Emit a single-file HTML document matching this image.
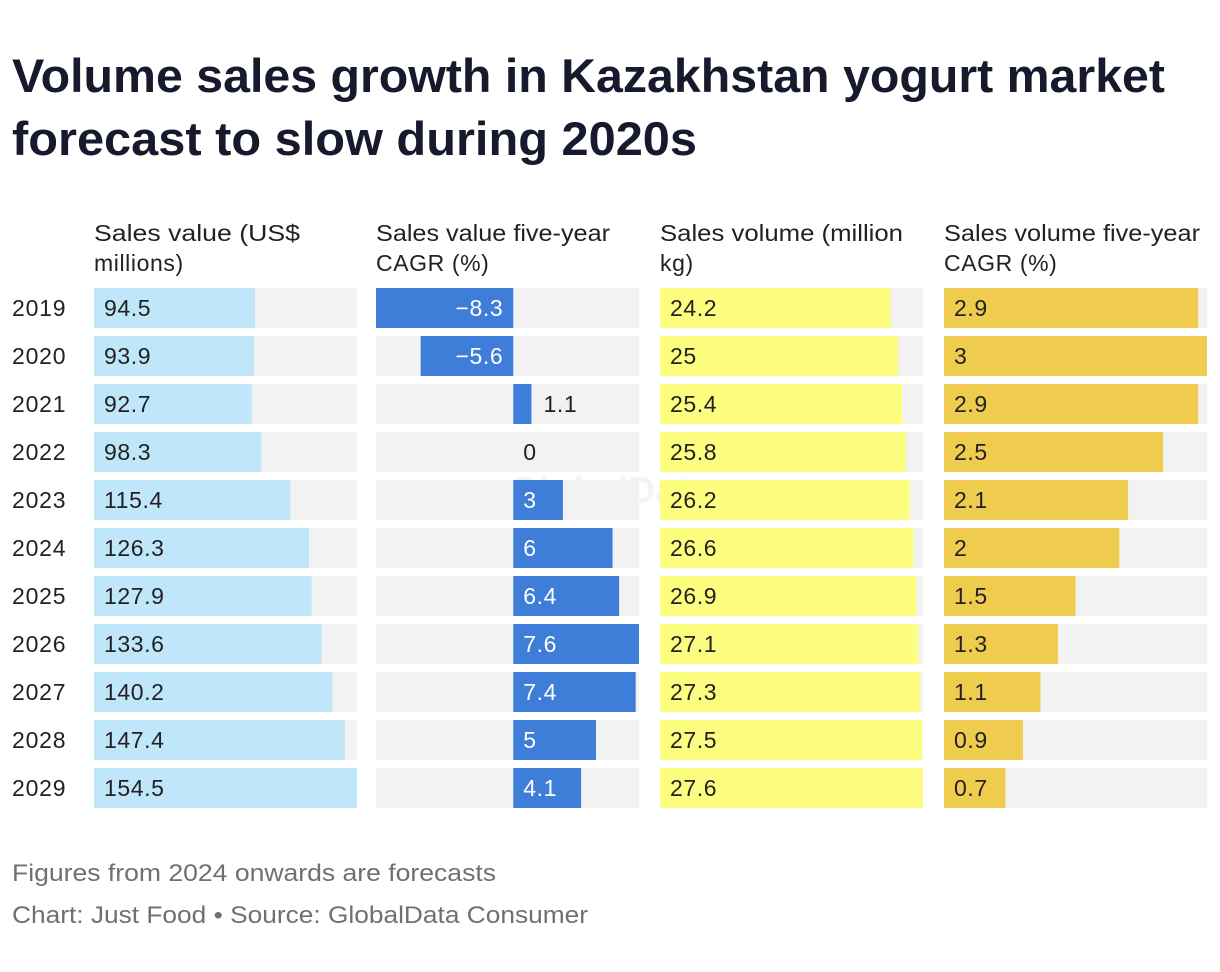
<!DOCTYPE html>
<html><head><meta charset="utf-8"><style>
html,body{margin:0;padding:0;background:#fff;}
svg{display:block;font-family:"Liberation Sans",Arial,sans-serif;}
</style></head><body>
<svg id="chart" width="1220" height="972" viewBox="0 0 1220 972" xmlns="http://www.w3.org/2000/svg">
<text x="12" y="92" font-size="47" font-weight="bold" fill="#171a2d" textLength="1153" lengthAdjust="spacingAndGlyphs">Volume sales growth in Kazakhstan yogurt market</text>
<text x="12" y="155" font-size="47" font-weight="bold" fill="#171a2d" textLength="685" lengthAdjust="spacingAndGlyphs">forecast to slow during 2020s</text>
<text x="610" y="503" font-size="38" font-weight="bold" fill="#f4f4f4" text-anchor="middle">GlobalData</text>
<g id="plot"></g>
<text x="12" y="881" font-size="24" fill="#707070" textLength="484" lengthAdjust="spacingAndGlyphs">Figures from 2024 onwards are forecasts</text>
<text x="12" y="923" font-size="24" fill="#707070" textLength="576" lengthAdjust="spacingAndGlyphs">Chart: Just Food • Source: GlobalData Consumer</text>
</svg>
<script>
const years = ["2019","2020","2021","2022","2023","2024","2025","2026","2027","2028","2029"];
const salesValue = [94.5,93.9,92.7,98.3,115.4,126.3,127.9,133.6,140.2,147.4,154.5];
const salesValueCagr = [-8.3,-5.6,1.1,0,3,6,6.4,7.6,7.4,5,4.1];
const salesVolume = [24.2,25,25.4,25.8,26.2,26.6,26.9,27.1,27.3,27.5,27.6];
const salesVolumeCagr = [2.9,3,2.9,2.5,2.1,2,1.5,1.3,1.1,0.9,0.7];
const headers = [["Sales value (US$","millions)"],["Sales value five-year","CAGR (%)"],["Sales volume (million","kg)"],["Sales volume five-year","CAGR (%)"]];
const headerWidths = [[206,0],[234,0],[243,0],[256,0]];
const colLabels = [salesValue.map(String), salesValueCagr.map(v=>v<0?"\u2212"+Math.abs(v):String(v)), salesVolume.map(String), salesVolumeCagr.map(String)];

const NS="http://www.w3.org/2000/svg";
const g=document.getElementById('plot');
function mk(tag,attrs,txt){const e=document.createElementNS(NS,tag);for(const k in attrs)e.setAttribute(k,attrs[k]);if(txt!==undefined)e.textContent=txt;g.appendChild(e);return e;}
const colX=[94,376,660,944], colW=263, rowY0=288, rowStep=48, rowH=40;
const series=[salesValue,salesValueCagr,salesVolume,salesVolumeCagr];
const colors=["#bfe6f9","#3f7ed8","#fdfd80","#f0cc4e"];
const names=["sales-value","sales-value-cagr","sales-volume","sales-volume-cagr"];
const rowY=i=>rowY0+i*rowStep;

years.forEach((y,i)=>{
  const t=mk('text',{x:12,y:rowY(i)+28,'font-size':23,fill:'#222','letter-spacing':'0.8'},y);
  
  
});
headers.forEach((h,c)=>{
  h.forEach((line,j)=>{
    const attrs={x:colX[c],y:241+j*30,'font-size':23,fill:'#222'};
    if(headerWidths[c][j]){attrs.textLength=headerWidths[c][j];attrs.lengthAdjust='spacingAndGlyphs';}
    else attrs['letter-spacing']='0.6';
    const t=mk('text',attrs,line);
    
    
  });
});
series.forEach((vals,c)=>{
  const x0=colX[c];
  const mn=Math.min(0,...vals), mx=Math.max(0,...vals);
  const sx=v=>x0+(v-mn)/(mx-mn)*colW;
  vals.forEach((v,i)=>{
    const y=rowY(i);
    const bg=mk('rect',{x:x0,y:y,width:colW,height:rowH,fill:'#f2f2f2'});
    
    
    const a=sx(Math.min(0,v)), b=sx(Math.max(0,v));
    const r=mk('rect',{x:a,y:y,width:Math.max(0,b-a),height:rowH,fill:colors[c]});
    
    
    let tx,anchor='start',fill='#222';
    if(c===1){
      if(v<0){tx=b-10;anchor='end';fill='#fff';}
      else if(v===0){tx=sx(0)+10;}
      else if(b-a>40){tx=sx(0)+10;fill='#fff';}
      else {tx=b+12;}
    } else tx=x0+10;
    const t=mk('text',{x:tx,y:y+28,'font-size':23,fill:fill,'text-anchor':anchor,'letter-spacing':'0.6'},colLabels[c][i]);
    
    
  });
});
</script>
</body></html>
